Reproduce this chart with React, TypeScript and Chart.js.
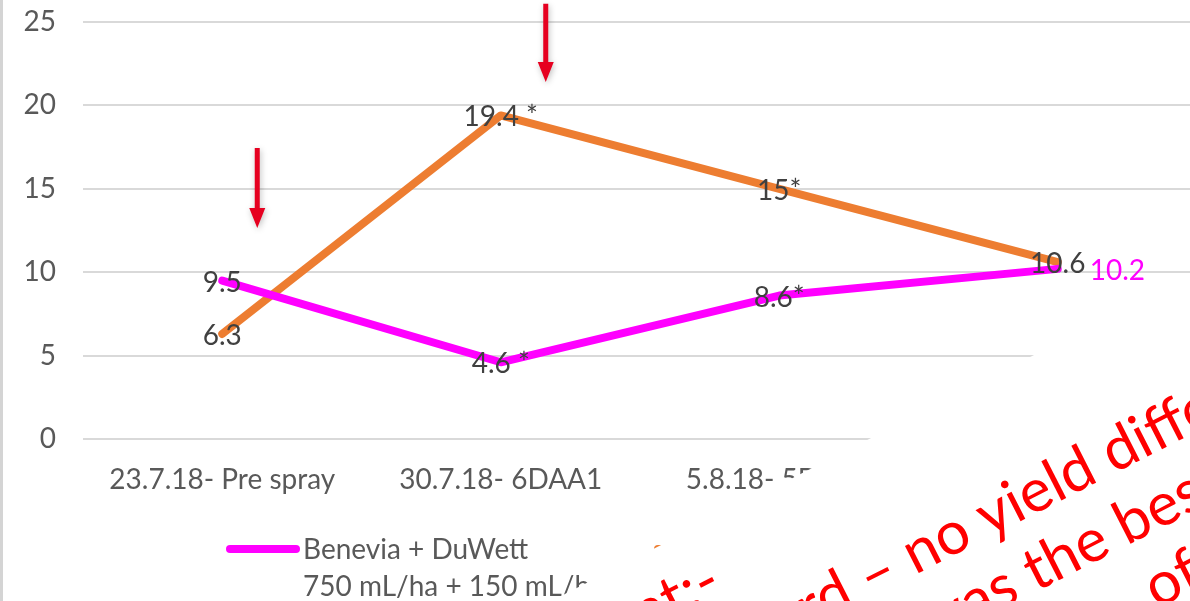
import React, { useEffect, useRef } from "react";
import { Chart, registerables } from "chart.js";

Chart.register(...registerables);

// Sampling dates
const categories = ["23.7.18- Pre spray", "30.7.18- 6DAA1", "5.8.18- 5DAA2", "13.8.18- 13DAA2"];

// Benevia + DuWett series and its significance marks
const beneviaValues = [9.5, 4.6, 8.6, 10.2];
const beneviaMarks = ["", " *", "*", ""];

// Untreated series and its significance marks
const controlValues = [6.3, 19.4, 15, 10.6];
const controlMarks = ["", " *", "*", ""];

// Value axis
const yMin = 0;
const yMax = 25;
const yStep = 5;

// Legend text (two lines per entry)
const beneviaLegend = ["Benevia + DuWett", "750 mL/ha + 150 mL/ha"];
const controlLegend = ["Untreated control", ""];

// Spray application arrows: category index, top and tip value
const sprayArrowCategory = [0, 1];
const sprayArrowTop = [17.45, 26.1];
const sprayArrowTip = [12.65, 21.4];

// Comment callout lines and the word each line is positioned by
const commentLines = [
  "Comment:-",
  "Same as standard \u2013 no yield difference",
  "Benevia + DuWett was the best",
  "of all treatments",
];
const commentAnchors = ["", "no", "the", "of"];

const FONT = "Lato, 'Noto Sans', sans-serif";
const AXIS_GREY = "#595959";
const LABEL_GREY = "#404040";
const MAGENTA = "#ff00ff";
const ORANGE = "#ed7d31";

const W = 1197;
const H = 601;

const overlayPlugin = {
  id: "overlay",
  beforeDraw(chart: any) {
    const ctx = chart.ctx;
    ctx.save();
    ctx.fillStyle = "#ffffff";
    ctx.fillRect(0, 0, chart.width, chart.height);
    ctx.restore();
  },
  afterDatasetsDraw(chart: any) {
    const ctx = chart.ctx;
    const xs = chart.scales.x;
    const ys = chart.scales.y;

    // value labels
    ctx.save();
    ctx.font = `28px ${FONT}`;
    ctx.textBaseline = "middle";
    chart.data.datasets.forEach((ds: any, di: number) => {
      const meta = chart.getDatasetMeta(di);
      meta.data.forEach((pt: any, i: number) => {
        const text = `${ds.data[i]}${ds.marks[i]}`;
        const side = ds.labelSide[i];
        if (side === "right") {
          ctx.textAlign = "left";
          ctx.fillStyle = ds.borderColor;
          ctx.fillText(text, pt.x + 32, pt.y + 2);
        } else {
          ctx.textAlign = "center";
          ctx.fillStyle = LABEL_GREY;
          ctx.fillText(text, pt.x, pt.y + 2);
        }
      });
    });
    ctx.restore();

    // spray arrows
    const offsets = [35, 45];
    sprayArrowCategory.forEach((c, i) => {
      const x = xs.getPixelForValue(c) + offsets[i];
      const yTop = ys.getPixelForValue(sprayArrowTop[i]);
      const yTip = ys.getPixelForValue(sprayArrowTip[i]);
      const headLen = 20;
      const headHalf = 8;
      const shaft = 5;
      ctx.save();
      ctx.shadowColor = "rgba(0,0,0,0.25)";
      ctx.shadowBlur = 6;
      ctx.shadowOffsetX = 1;
      ctx.shadowOffsetY = 2;
      ctx.fillStyle = "#e60020";
      ctx.beginPath();
      ctx.moveTo(x - shaft / 2, yTop);
      ctx.lineTo(x + shaft / 2, yTop);
      ctx.lineTo(x + shaft / 2, yTip - headLen);
      ctx.lineTo(x + headHalf, yTip - headLen);
      ctx.lineTo(x, yTip);
      ctx.lineTo(x - headHalf, yTip - headLen);
      ctx.lineTo(x - shaft / 2, yTip - headLen);
      ctx.closePath();
      ctx.fill();
      ctx.restore();
    });
  },
  afterDraw(chart: any) {
    const ctx = chart.ctx;

    // legend
    ctx.save();
    const legendX = [226, 654];
    const legendY = 549;
    chart.data.datasets.forEach((ds: any, di: number) => {
      const x0 = legendX[di];
      ctx.strokeStyle = ds.borderColor;
      ctx.lineWidth = 8;
      ctx.lineCap = "round";
      ctx.beginPath();
      ctx.moveTo(x0 + 4, legendY);
      ctx.lineTo(x0 + 70, legendY);
      ctx.stroke();
      ctx.fillStyle = AXIS_GREY;
      ctx.font = `28px ${FONT}`;
      ctx.textAlign = "left";
      ctx.textBaseline = "middle";
      ds.legendLines.forEach((t: string, li: number) => {
        ctx.fillText(t, x0 + 77, legendY + 1 + li * 37);
      });
    });
    ctx.restore();

    // rotated comment box
    ctx.save();
    ctx.translate(915, 575);
    ctx.rotate((-27 * Math.PI) / 180);
    ctx.fillStyle = "#ffffff";
    ctx.fillRect(-1400, -142, 2800, 1200);
    ctx.fillStyle = "#ff0000";
    ctx.font = `60px ${FONT}`;
    ctx.textAlign = "left";
    ctx.textBaseline = "alphabetic";
    const anchorU = [-178, 0, 100, 200];
    commentLines.forEach((line, li) => {
      const v = (li - 1) * 70;
      let x: number;
      if (commentAnchors[li] === "") {
        x = anchorU[li] - ctx.measureText(line).width;
      } else {
        const idx = line.indexOf(commentAnchors[li]);
        x = anchorU[li] - ctx.measureText(line.slice(0, idx)).width;
      }
      ctx.fillText(line, x, v);
    });
    ctx.restore();

    // slide edge
    ctx.save();
    ctx.fillStyle = "#d4d4d4";
    ctx.fillRect(0, 0, 3, chart.height);
    ctx.restore();
  },
};

export default function App() {
  const canvasRef = useRef<HTMLCanvasElement | null>(null);

  useEffect(() => {
    if (!canvasRef.current) return;
    const chart = new Chart(canvasRef.current, {
      type: "line",
      data: {
        labels: categories,
        datasets: [
          {
            label: beneviaLegend[0],
            data: beneviaValues,
            borderColor: MAGENTA,
            backgroundColor: MAGENTA,
            borderWidth: 8,
            pointRadius: 0,
            tension: 0,
            borderCapStyle: "round",
            borderJoinStyle: "round",
            marks: beneviaMarks,
            labelSide: ["center", "center", "center", "right"],
            legendLines: beneviaLegend,
          } as any,
          {
            label: controlLegend[0],
            data: controlValues,
            borderColor: ORANGE,
            backgroundColor: ORANGE,
            borderWidth: 8,
            pointRadius: 0,
            tension: 0,
            borderCapStyle: "round",
            borderJoinStyle: "round",
            marks: controlMarks,
            labelSide: ["center", "center", "center", "center"],
            legendLines: controlLegend,
          } as any,
        ],
      },
      options: {
        responsive: false,
        animation: false,
        layout: { padding: { top: 22, left: 0, right: 0, bottom: 0 } },
        plugins: {
          legend: { display: false },
          tooltip: { enabled: false },
          title: { display: false },
        },
        scales: {
          x: {
            type: "category",
            offset: true,
            grid: { display: false, drawTicks: false },
            border: { display: false },
            ticks: {
              color: AXIS_GREY,
              font: { family: FONT, size: 28 },
              padding: 24,
              maxRotation: 0,
              autoSkip: false,
            },
            afterFit: (scale: any) => {
              scale.height = 162;
              scale.paddingLeft = 0;
              scale.paddingRight = 0;
            },
          },
          y: {
            min: yMin,
            max: yMax,
            grid: { color: "#d9d9d9", lineWidth: 2, drawTicks: false },
            border: { display: false },
            ticks: {
              stepSize: yStep,
              color: AXIS_GREY,
              font: { family: FONT, size: 28 },
              padding: 27,
            },
            afterFit: (scale: any) => {
              scale.width = 83;
              scale.paddingTop = 0;
              scale.paddingBottom = 0;
            },
          },
        },
      },
      plugins: [overlayPlugin],
    });
    return () => chart.destroy();
  }, []);

  return (
    <div
      style={{
        position: "fixed",
        left: 0,
        top: 0,
        width: 1190,
        height: H,
        overflow: "hidden",
        background: "#ffffff",
      }}
    >
      <canvas ref={canvasRef} width={W} height={H} style={{ display: "block" }} />
    </div>
  );
}
